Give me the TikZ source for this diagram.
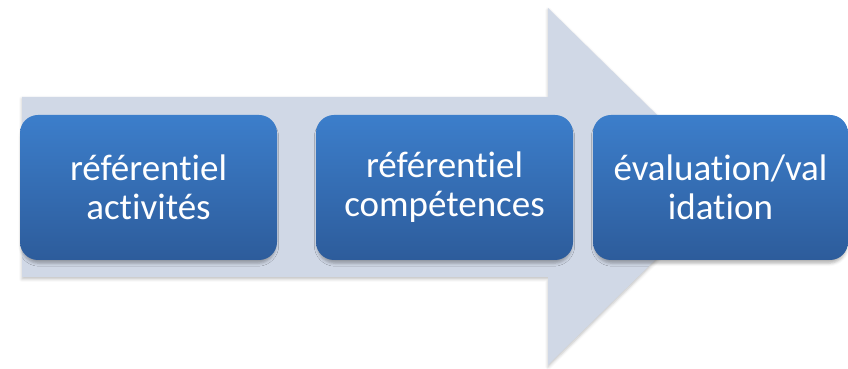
\documentclass[tikz,border=0pt]{standalone}
\usepackage{fontspec}
\setmainfont[Ligatures=NoCommon]{Carlito}
\usetikzlibrary{shadows.blur,calc}
\definecolor{arrowfill}{HTML}{D0D8E6}
\definecolor{boxtop}{HTML}{3C7ECB}
\definecolor{boxbot}{HTML}{2D5C9B}
\tikzset{
  stepbox/.style={rounded corners=18pt, top color=boxtop, bottom color=boxbot, draw=none,
    blur shadow={shadow xshift=0pt, shadow yshift=-4pt, shadow blur radius=3pt, shadow opacity=30, shadow scale=0.99},
    text=white, align=center, inner sep=0pt, minimum width=257pt, minimum height=145pt,
    font=\fontsize{37}{39}\selectfont},
  bigarrow/.style={fill=arrowfill, draw=none,
    blur shadow={shadow xshift=0pt, shadow yshift=-2pt, shadow blur radius=3pt, shadow opacity=25}}
}
\begin{document}
\begin{tikzpicture}[x=1pt,y=1pt]
\useasboundingbox (0,0) rectangle (848,369);
\path[bigarrow] (22,272) -- (548,272) -- (548,361) -- (730,182.5) -- (548,4) -- (548,92) -- (22,92) -- cycle;
\node[stepbox] (b1) at (148.5,181.5) {référentiel\\activités};
\node[stepbox] (b2) at (444.5,181.5) {référentiel\\compétences};
\node[stepbox, minimum width=255pt] (b3) at (720.5,181.5) {évaluation/val\\idation};
\end{tikzpicture}
\end{document}
